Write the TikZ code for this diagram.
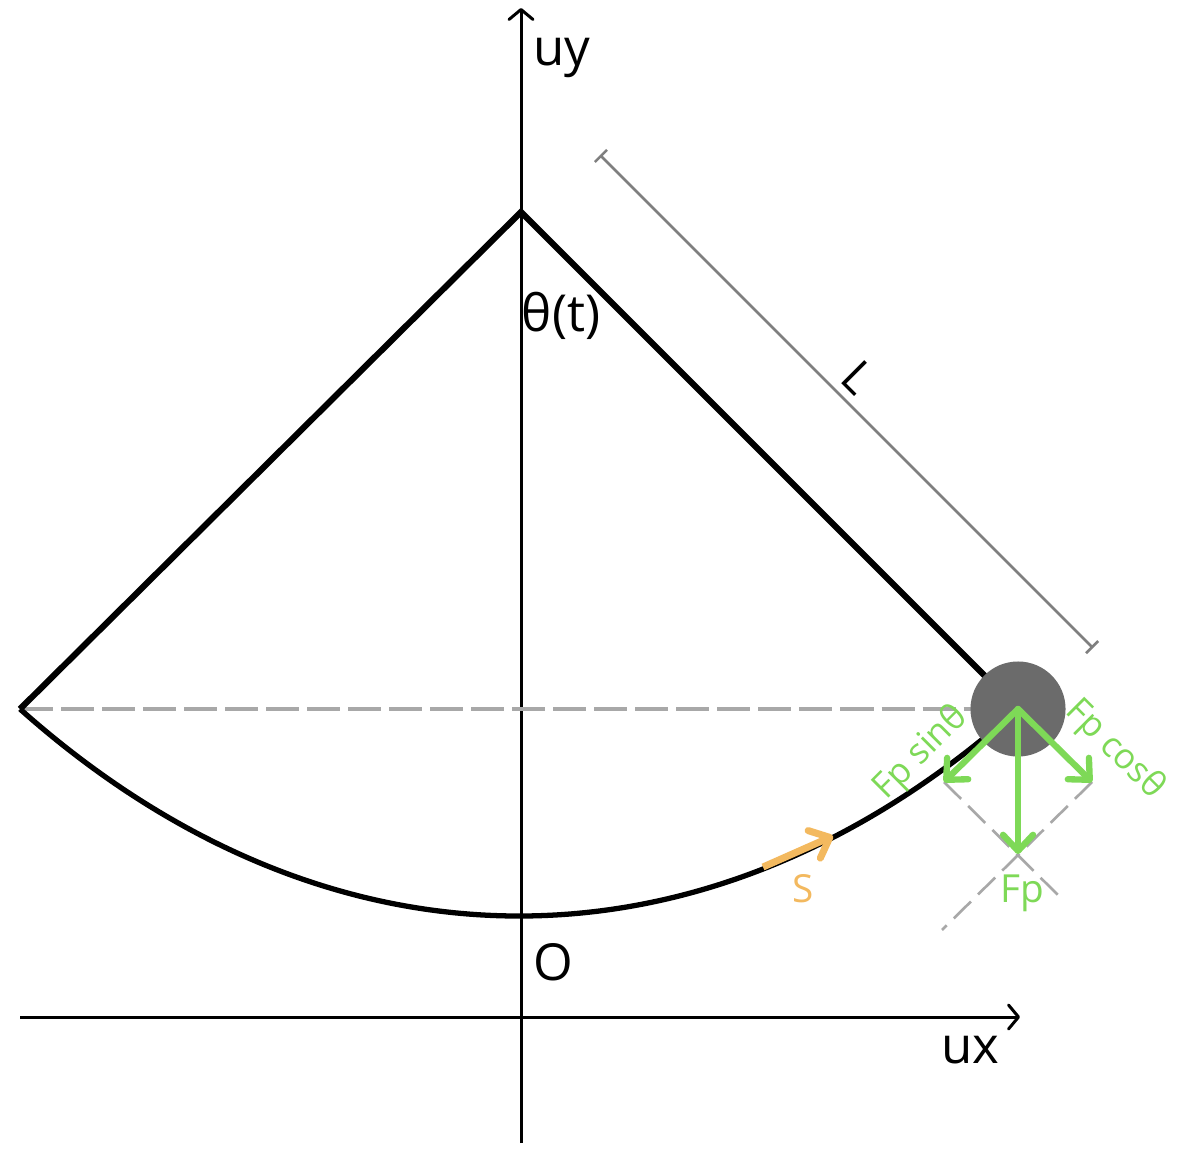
\documentclass[tikz,border=0pt]{standalone}
\usepackage{fontspec}
\setmainfont{Open Sans}
\usetikzlibrary{arrows.meta}
\definecolor{fgreen}{HTML}{7ED957}
\definecolor{sorange}{HTML}{F3B95F}
\definecolor{bobgray}{HTML}{6B6B6B}
\definecolor{dimgray}{HTML}{7F7F7F}
\definecolor{dashgray}{HTML}{A8A8A8}
\begin{document}
\begin{tikzpicture}[x=0.01cm,y=-0.01cm,
  axisline/.style={line width=0.85pt,-{Straight Barb[length=1mm,width=2.4mm,round]}},
  stringline/.style={line width=1.75pt,line join=miter},
  arcline/.style={line width=1.5pt},
  levelline/.style={dashgray,line width=1.2pt,dash pattern=on 3.3mm off 0.8mm},
  guideline/.style={dashgray,line width=0.75pt,dash pattern=on 2.4mm off 1mm},
  dimline/.style={dimgray,line width=0.75pt,{Bar[width=1.7mm]}-{Bar[width=1.7mm]}},
  forcearrow/.style={fgreen,line width=1.8pt,line cap=round,-{Straight Barb[length=1.6mm,width=3mm,round]}},
  sarrow/.style={sorange,line width=2pt,-{Straight Barb[length=1.7mm,width=3mm,round]}},
  biglabel/.style={inner sep=0pt,font=\fontsize{14.5}{17}\selectfont},
  greenlabel/.style={inner sep=0pt,text=fgreen,font=\fontsize{10}{12}\selectfont}
]
\useasboundingbox (0,0) rectangle (1180,1170);
\fill[white] (0,0) rectangle (1180,1170);

% coordinates
\coordinate (yb) at (521,1143);
\coordinate (yt) at (521,8);
\coordinate (xl) at (20,1017);
\coordinate (xr) at (1020,1017);
\coordinate (piv) at (521,212);
\coordinate (lft) at (20,709);
\coordinate (bc) at (1018,709);
\coordinate (dimA) at (600,155);
\coordinate (dimB) at (1093,648);
\coordinate (sStart) at (763,867);
\coordinate (sEnd) at (833,836);
\coordinate (fsin) at (944,782);
\coordinate (fcos) at (1092,782);
\coordinate (fp) at (1018,854);
\coordinate (g1) at (1060,897);
\coordinate (g2) at (942,930);

% axes
\draw[axisline] (yb) -- (yt);
\draw[axisline] (xl) -- (xr);

% level line
\draw[levelline] (lft) -- (bc);

% arc
\draw[arcline] (lft) .. controls (330,985) and (708,985) .. (bc);

% strings
\draw[stringline] (lft) -- (piv) -- (bc);

% dimension L
\draw[dimline] (dimA) -- (dimB);
\node[biglabel,rotate=-45,font=\fontsize{13}{15}\selectfont] (Llab) at (858,377) {L};

% guide dashed lines
\draw[guideline] (fsin) -- (g1);
\draw[guideline] (fcos) -- (g2);

% bob
\node[circle,fill=bobgray,minimum size=0.95cm,inner sep=0pt] (bob) at (bc) {};

% force arrows
\draw[forcearrow] (bob.center) -- (fp);
\draw[forcearrow] (bob.center) -- (fsin);
\draw[forcearrow] (bob.center) -- (fcos);

% s arrow
\draw[sarrow] (sStart) -- (sEnd);

% labels
\node[biglabel] (uy) at (562,58) {uy};
\node[biglabel] (ux) at (970,1050) {ux};
\node[biglabel] (theta) at (561,316) {θ(t)};
\node[biglabel] (O) at (553,962) {O};
\node[greenlabel,rotate=45] (lsin) at (921,753) {Fp sinθ};
\node[greenlabel,rotate=-45] (lcos) at (1115,750) {Fp cosθ};
\node[greenlabel,font=\fontsize{11}{13}\selectfont] (lfp) at (1022,893) {Fp};
\node[inner sep=0pt,text=sorange,font=\fontsize{11}{13}\selectfont] (ls) at (803,889) {S};
\end{tikzpicture}
\end{document}
